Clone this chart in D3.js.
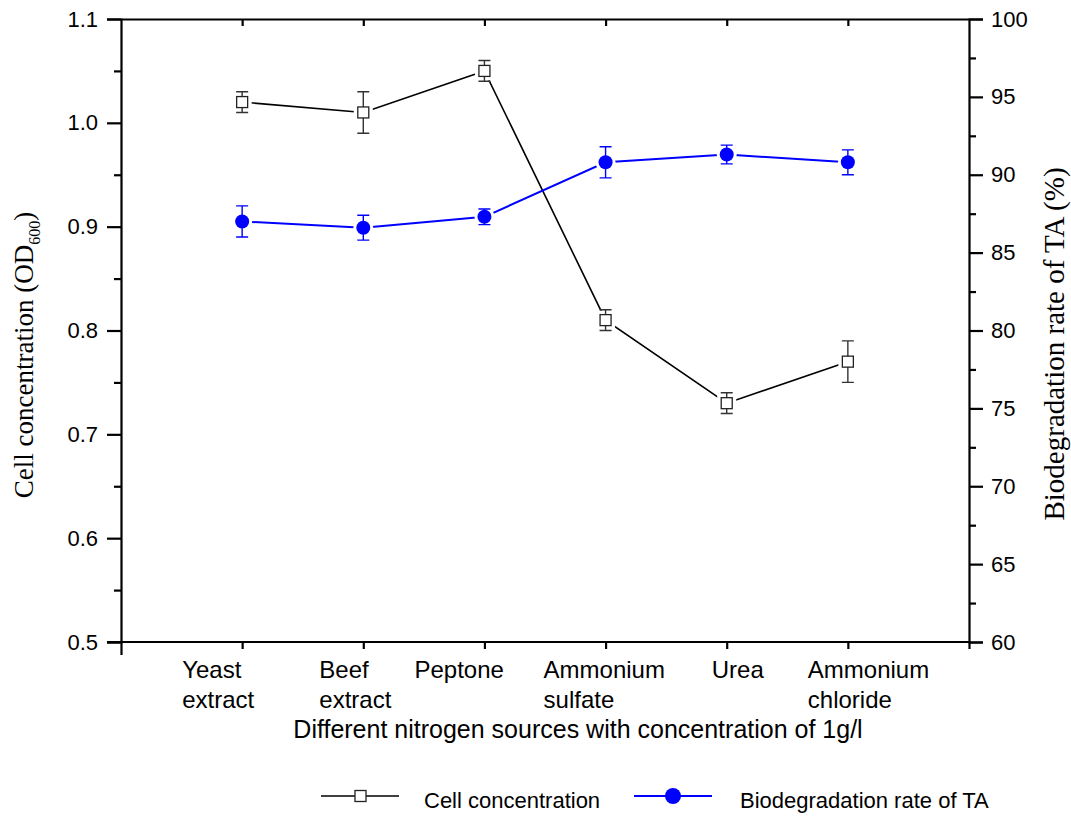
<!DOCTYPE html>
<html>
<head>
<meta charset="utf-8">
<script src="https://cdn.jsdelivr.net/npm/d3@7"></script>
<style>
  body { margin: 0; background: #fff; }
  svg { display: block; }
  .sans { font-family: "Liberation Sans", Arial, sans-serif; }
  .serif { font-family: "Liberation Serif", "Times New Roman", serif; }
</style>
</head>
<body>
<svg width="1071" height="817"></svg>
<script>
// nitrogen sources (x categories)
var sources = [["Yeast", "extract"], ["Beef", "extract"], ["Peptone"], ["Ammonium", "sulfate"], ["Urea"], ["Ammonium", "chloride"]];
// cell concentration, OD600 (left axis)
var cellOD = [1.02, 1.01, 1.05, 0.81, 0.73, 0.77];
var cellErr = [0.01, 0.02, 0.01, 0.01, 0.01, 0.02];
// biodegradation rate of TA, % (right axis)
var bioRate = [87.0, 86.6, 87.3, 90.8, 91.3, 90.8];
var bioErr = [1.0, 0.8, 0.5, 1.0, 0.6, 0.8];
// tick values
var leftTicks = [0.5, 0.6, 0.7, 0.8, 0.9, 1.0, 1.1];
var rightTicks = [60, 65, 70, 75, 80, 85, 90, 95, 100];

// left edge of each (left aligned) category label, relative to its tick
var labelShift = [-60, -44, -70, -62, -15, -40];

var svg = d3.select("svg"),
    margin = { top: 19, right: 102, bottom: 175, left: 121 },
    width = 1071 - margin.left - margin.right,
    height = 817 - margin.top - margin.bottom;

var x = d3.scaleLinear().domain([0, 7]).range([0, width]);
var yL = d3.scaleLinear().domain([0.5, 1.1]).range([height, 0]);
var yR = d3.scaleLinear().domain([60, 100]).range([height, 0]);

var g = svg.append("g")
    .attr("transform", "translate(" + margin.left + "," + margin.top + ")");

var idx = d3.range(1, sources.length + 1);

// left axis: major ticks with labels, minor ticks between
var left = g.append("g").attr("class", "sans")
    .call(d3.axisLeft(yL).tickValues(leftTicks).tickFormat(d3.format(".1f")).tickSize(14).tickPadding(9));
g.append("g")
    .call(d3.axisLeft(yL).tickValues(d3.range(0.55, 1.1, 0.1)).tickSize(7).tickFormat(""))
    .select(".domain").remove();

var right = g.append("g").attr("class", "sans")
    .attr("transform", "translate(" + width + ",0)")
    .call(d3.axisRight(yR).tickValues(rightTicks).tickSize(14).tickPadding(8));
g.append("g")
    .attr("transform", "translate(" + width + ",0)")
    .call(d3.axisRight(yR).tickValues(d3.range(62.5, 100, 5)).tickSize(7).tickFormat(""))
    .select(".domain").remove();

var bottom = g.append("g")
    .attr("transform", "translate(0," + height + ")")
    .call(d3.axisBottom(x).tickValues(idx.concat([7])).tickSize(7).tickFormat("").tickSizeOuter(0));
g.append("g")
    .attr("transform", "translate(0," + height + ")")
    .call(d3.axisBottom(x).tickValues([0]).tickSize(13).tickFormat("").tickSizeOuter(0))
    .select(".domain").remove();
// stretch the bottom line to the left tick
bottom.select(".domain").attr("d", "M-14,0H" + width);

var top = g.append("g")
    .call(d3.axisTop(x).tickValues(idx).tickSize(-7).tickFormat("").tickSizeOuter(0));

g.selectAll(".domain, .tick line").attr("stroke", "#000").attr("stroke-width", 2.2);
g.selectAll(".tick text").attr("fill", "#000").style("font-size", "22px");

// category labels, two lines each
var cat = g.append("g").attr("class", "sans");
sources.forEach(function (lines, i) {
    var t = cat.append("text")
        .attr("y", height + 36)
        .attr("text-anchor", "start")
        .style("font-size", "24px");
    lines.forEach(function (s, k) {
        t.append("tspan").attr("x", x(i + 1) + labelShift[i]).attr("dy", k ? 30 : 0).text(s);
    });
});

g.append("text").attr("class", "sans")
    .attr("x", width / 2 + 33)
    .attr("y", height + 96)
    .attr("text-anchor", "middle")
    .style("font-size", "25px")
    .text("Different nitrogen sources with concentration of 1g/l");

// y titles
var lt = svg.append("text").attr("class", "serif")
    .attr("transform", "translate(33,355) rotate(-90)")
    .attr("text-anchor", "middle")
    .style("font-size", "27px");
lt.append("tspan").text("Cell concentration (OD");
lt.append("tspan").attr("dy", 7).style("font-size", "16px").text("600");
lt.append("tspan").attr("dy", -7).text(")");

svg.append("text").attr("class", "serif")
    .attr("transform", "translate(1064,344) rotate(-90)")
    .attr("text-anchor", "middle")
    .style("font-size", "29px")
    .text("Biodegradation rate of TA (%)");

// series
var lineL = d3.line().x((d, i) => x(i + 1)).y(d => yL(d));
var lineR = d3.line().x((d, i) => x(i + 1)).y(d => yR(d));

g.append("path").datum(cellOD).attr("d", lineL)
    .attr("fill", "none").attr("stroke", "#000").attr("stroke-width", 1.6);
g.append("path").datum(bioRate).attr("d", lineR)
    .attr("fill", "none").attr("stroke", "#0000ff").attr("stroke-width", 2);

// white gaps around markers
g.selectAll(".haloL").data(cellOD).enter().append("rect")
    .attr("x", (d, i) => x(i + 1) - 9.5).attr("y", d => yL(d) - 9.5)
    .attr("width", 19).attr("height", 19).attr("fill", "#fff");
g.selectAll(".haloR").data(bioRate).enter().append("circle")
    .attr("cx", (d, i) => x(i + 1)).attr("cy", d => yR(d)).attr("r", 10).attr("fill", "#fff");

// error bars
function errBars(vals, errs, y, color) {
    var eb = g.append("g").attr("stroke", color).attr("stroke-width", 1.4).attr("fill", "none");
    vals.forEach(function (v, i) {
        var cx = x(i + 1), y0 = y(v - errs[i]), y1 = y(v + errs[i]);
        eb.append("path").attr("d",
            "M" + cx + "," + y0 + "V" + y1 +
            "M" + (cx - 6) + "," + y0 + "H" + (cx + 6) +
            "M" + (cx - 6) + "," + y1 + "H" + (cx + 6));
    });
}
errBars(cellOD, cellErr, yL, "#333");
errBars(bioRate, bioErr, yR, "#0000ff");

g.selectAll(".sq").data(cellOD).enter().append("rect")
    .attr("x", (d, i) => x(i + 1) - 5.5).attr("y", d => yL(d) - 5.5)
    .attr("width", 11).attr("height", 11)
    .attr("fill", "#fff").attr("stroke", "#222").attr("stroke-width", 1.3);
g.selectAll(".dot").data(bioRate).enter().append("circle")
    .attr("cx", (d, i) => x(i + 1)).attr("cy", d => yR(d)).attr("r", 7)
    .attr("fill", "#0000ff");

// legend
var leg = svg.append("g").attr("class", "sans");
leg.append("line").attr("x1", 321).attr("x2", 399).attr("y1", 796).attr("y2", 796)
    .attr("stroke", "#000").attr("stroke-width", 1.6);
leg.append("rect").attr("x", 355).attr("y", 790.5).attr("width", 11).attr("height", 11)
    .attr("fill", "#fff").attr("stroke", "#222").attr("stroke-width", 1.3);
leg.append("text").attr("x", 424).attr("y", 808).style("font-size", "22px").text("Cell concentration");
leg.append("line").attr("x1", 634).attr("x2", 712).attr("y1", 796).attr("y2", 796)
    .attr("stroke", "#0000ff").attr("stroke-width", 2);
leg.append("circle").attr("cx", 673).attr("cy", 796).attr("r", 8).attr("fill", "#0000ff");
leg.append("text").attr("x", 740).attr("y", 808).style("font-size", "22px").text("Biodegradation rate of TA");
</script>
</body>
</html>
